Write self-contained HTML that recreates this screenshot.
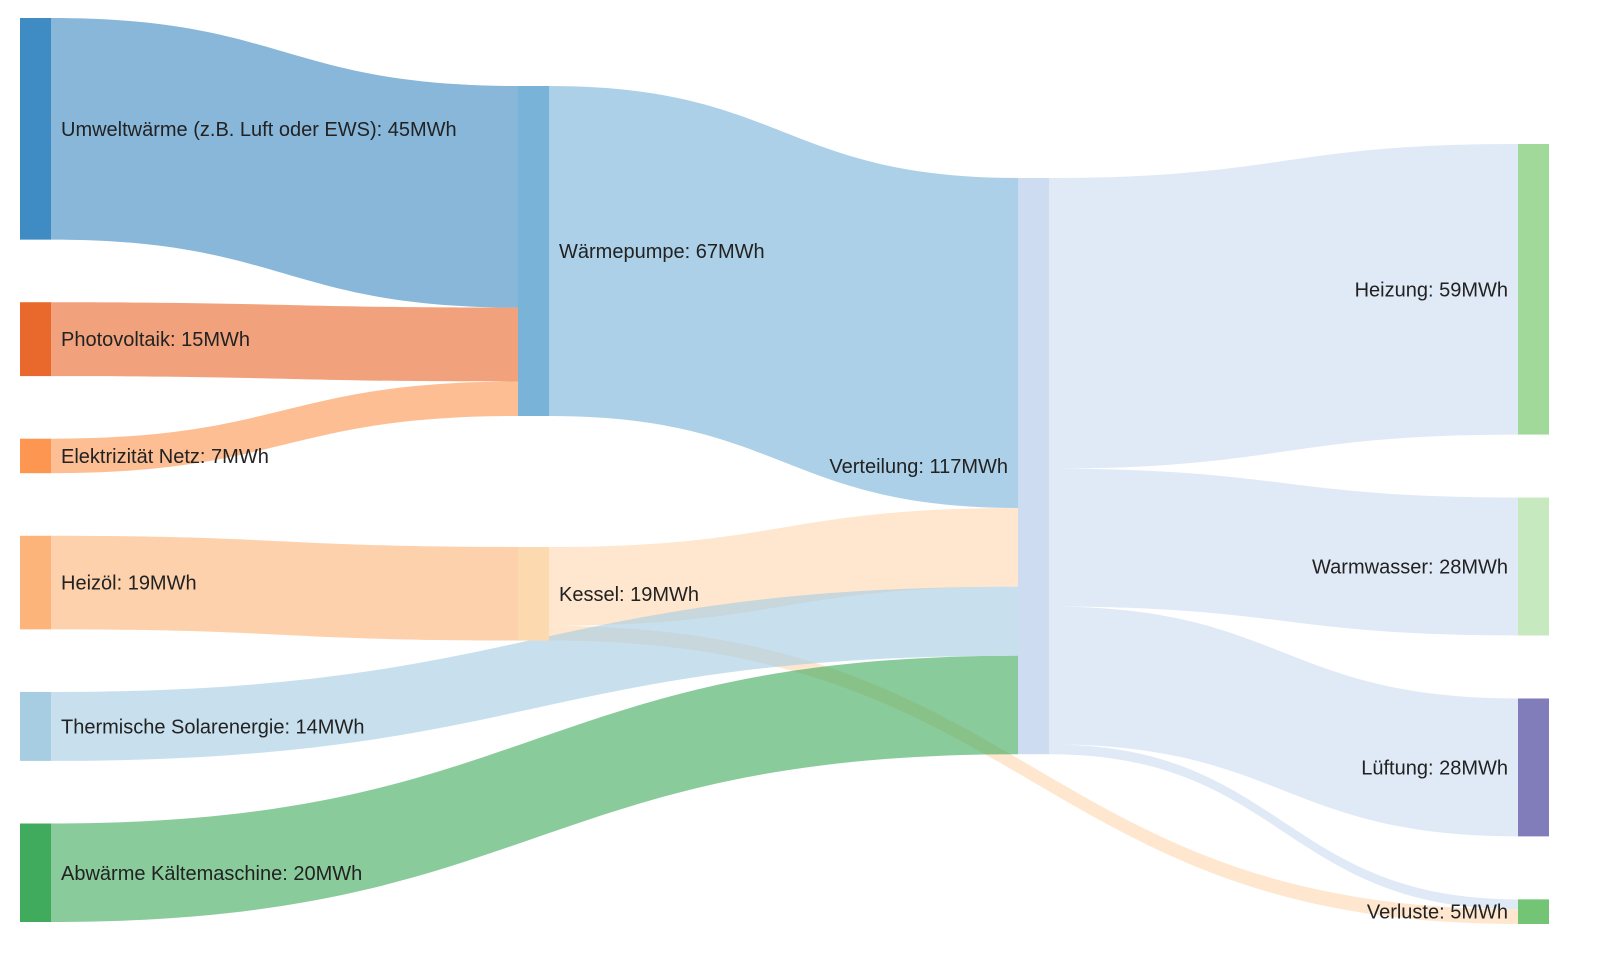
<!DOCTYPE html>
<html><head><meta charset="utf-8"><style>
html,body{margin:0;padding:0;background:#fff;}
svg{display:block;font-family:"Liberation Sans",Arial,sans-serif;}
</style></head><body>
<svg id="chart" width="1600" height="960" viewBox="0 0 1600 960" xmlns="http://www.w3.org/2000/svg">
<g id="links"></g>
<g id="nodes"></g>
<g id="labels"></g>
</svg>
<script>
const nodeNames = ["Umweltwärme (z.B. Luft oder EWS)","Photovoltaik","Elektrizität Netz","Heizöl","Thermische Solarenergie","Abwärme Kältemaschine","Wärmepumpe","Kessel","Verteilung","Heizung","Warmwasser","Lüftung","Verluste"];
const nodeColumns = [0,0,0,0,0,0,1,1,2,3,3,3,3];
const nodeColors = ["#3f8bc3","#e8692b","#fd9650","#fdb47a","#a7cde3","#41ab5d","#79b3d8","#fdd9b0","#cddcf0","#a1d99b","#c7e9c0","#807dba","#74c476"];
const linkSources = [0,1,2,3,6,7,7,4,5,8,8,8,8];
const linkTargets = [6,6,6,7,8,8,12,8,8,9,10,11,12];
const linkValues  = [45,15,7,19,67,16,3,14,20,59,28,28,2];
const unit = "MWh";

// layout config
const colX = [20,518,1018,1518], nodeW = 31, k = 4.925;
const colTop = [18,86,178,144], colGap = [62.6,131,0,63];

const svgNS = "http://www.w3.org/2000/svg";
const N = nodeNames.length;
const inSum = new Array(N).fill(0), outSum = new Array(N).fill(0);
linkValues.forEach((v,i)=>{outSum[linkSources[i]]+=v; inSum[linkTargets[i]]+=v;});
const nodeVal = nodeNames.map((_,i)=>Math.max(inSum[i],outSum[i]));
const nodeY0 = [], nodeY1 = [];
const colCursor = colTop.slice();
for(let i=0;i<N;i++){const c=nodeColumns[i];nodeY0[i]=colCursor[c];nodeY1[i]=nodeY0[i]+nodeVal[i]*k;colCursor[c]=nodeY1[i]+colGap[c];}

// link offsets
const idx = linkValues.map((_,i)=>i);
const sy = [], ty = [];
for(let n=0;n<N;n++){
  let out = idx.filter(i=>linkSources[i]===n).sort((a,b)=>nodeY0[linkTargets[a]]-nodeY0[linkTargets[b]]);
  let y=nodeY0[n]; out.forEach(i=>{sy[i]=y;y+=linkValues[i]*k;});
  let inn = idx.filter(i=>linkTargets[i]===n).sort((a,b)=>nodeY0[linkSources[a]]-nodeY0[linkSources[b]]);
  y=nodeY0[n]; inn.forEach(i=>{ty[i]=y;y+=linkValues[i]*k;});
}
const gl=document.getElementById('links'),gn=document.getElementById('nodes'),gt=document.getElementById('labels');
idx.forEach(i=>{
  const s=linkSources[i],t=linkTargets[i],w=linkValues[i]*k;
  const x0=colX[nodeColumns[s]]+nodeW,x1=colX[nodeColumns[t]],xm=(x0+x1)/2;
  const a=sy[i],b=ty[i];
  const p=document.createElementNS(svgNS,'path');
  p.setAttribute('d',`M${x0},${a}C${xm},${a} ${xm},${b} ${x1},${b}L${x1},${b+w}C${xm},${b+w} ${xm},${a+w} ${x0},${a+w}Z`);
  p.setAttribute('fill',nodeColors[s]);p.setAttribute('fill-opacity','0.62');
  
  
  gl.appendChild(p);
});
for(let n=0;n<N;n++){
  const c=nodeColumns[n];
  const r=document.createElementNS(svgNS,'rect');
  r.setAttribute('x',colX[c]);r.setAttribute('y',nodeY0[n]);r.setAttribute('width',nodeW);r.setAttribute('height',nodeY1[n]-nodeY0[n]);
  r.setAttribute('fill',nodeColors[n]);
  
  
  gn.appendChild(r);
  const tx=document.createElementNS(svgNS,'text');
  const left = c>=2;
  tx.setAttribute('x',left?colX[c]-10:colX[c]+nodeW+10);
  tx.setAttribute('y',(nodeY0[n]+nodeY1[n])/2);
  tx.setAttribute('dy','0.35em');tx.setAttribute('text-anchor',left?'end':'start');
  tx.setAttribute('font-size','20');tx.setAttribute('fill','#222');
  tx.textContent=nodeNames[n]+': '+nodeVal[n]+unit;
  
  
  gt.appendChild(tx);
}
</script>
</body></html>
